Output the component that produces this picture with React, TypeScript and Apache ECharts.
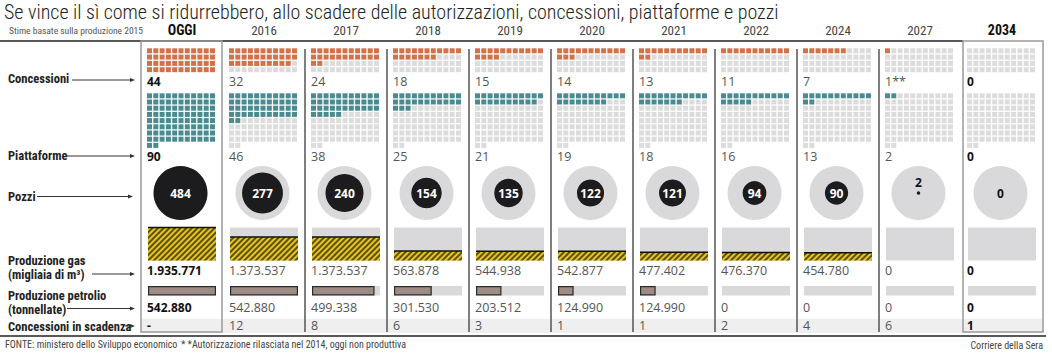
import React, { useEffect, useRef } from "react";
import * as echarts from "echarts";

const columns = ["OGGI", "2016", "2017", "2018", "2019", "2020", "2021", "2022", "2024", "2027", "2034"];
const concessioni = [44, 32, 24, 18, 15, 14, 13, 11, 7, 1, 0];
const concessioniLabels = ["44", "32", "24", "18", "15", "14", "13", "11", "7", "1**", "0"];
const piattaforme = [90, 46, 38, 25, 21, 19, 18, 16, 13, 2, 0];
const pozzi = [484, 277, 240, 154, 135, 122, 121, 94, 90, 2, 0];
const gas = [1935771, 1373537, 1373537, 563878, 544938, 542877, 477402, 476370, 454780, 0, 0];
const petrolio = [542880, 542880, 499338, 301530, 203512, 124990, 124990, 0, 0, 0, 0];
const scadenza = ["-", "12", "8", "6", "3", "1", "1", "2", "4", "6", "1"];

const F = "'Liberation Sans Narrow', 'Roboto Condensed', Roboto, sans-serif";
const FN = "'Open Sans', 'Liberation Sans', sans-serif";
const GL = 141;
const GR = 9;
const BAND = (1052 - GL - GR) / columns.length;

const ORANGE = "#d27249";
const TEAL = "#4a8b91";
const CELL_GREY = "#dcdcdc";
const BG_GREY = "#d9d9db";
const DARK = "#1c1c1e";

const fmt = (n: number) => (n === 0 ? "0" : String(n).replace(/\B(?=(\d{3})+(?!\d))/g, "."));
const isBold = (i: number) => i === 0 || i === columns.length - 1;

function numText(i: number, x: number, y: number, text: string) {
  return {
    type: "text",
    x,
    y,
    style: {
      text,
      fill: isBold(i) ? "#111" : "#555",
      fontSize: isBold(i) ? 12 : 12.5,
      fontWeight: isBold(i) ? "bold" : "normal",
      fontFamily: FN,
      align: "left",
      verticalAlign: "middle",
    },
  };
}

function waffle(rows: number, maxCells: number, color: string, labels: string[]) {
  return (params: any, api: any) => {
    const i = api.value(0);
    const v = api.value(1);
    const c = api.coord([i, 0]);
    const x0 = c[0] - 35;
    const pitch = 6.3;
    const children: any[] = [];
    for (let r = 0; r < rows; r++) {
      const y = api.coord([i, r])[1];
      for (let k = 0; k < 11; k++) {
        const idx = r * 11 + k;
        if (idx >= maxCells) continue;
        children.push({
          type: "rect",
          shape: { x: x0 + k * pitch, y, width: 5, height: 5 },
          style: { fill: idx < v ? color : CELL_GREY },
        });
      }
    }
    const yb = api.coord([i, rows])[1];
    children.push(numText(i, x0, yb + 7.5, labels[i]));
    return { type: "group", children };
  };
}

function arrow(x1: number, x2: number, y: number) {
  return [
    { type: "line", shape: { x1, y1: y, x2: x2 - 3, y2: y }, style: { stroke: "#333", lineWidth: 1 }, z: 10 },
    {
      type: "polygon",
      shape: { points: [[x2, y], [x2 - 5, y - 2], [x2 - 5, y + 2]] },
      style: { fill: "#333" },
      z: 10,
    },
  ];
}

function label(text: string, y: number) {
  return {
    type: "text",
    x: 8,
    y,
    style: { text, fill: "#222", fontSize: 12.5, fontWeight: "bold", fontFamily: F, verticalAlign: "middle" },
    z: 10,
  };
}

export default function App() {
  const ref = useRef<HTMLDivElement>(null);
  useEffect(() => {
    const chart = echarts.init(ref.current!, null, { renderer: "svg" });
    const gasMax = Math.max(...gas);
    const oilMax = Math.max(...petrolio);
    const grids = [
      { top: 48.3, height: 25.2 },
      { top: 93.3, height: 55.8 },
      { top: 166, height: 54 },
      { top: 227.5, height: 33 },
      { top: 286, height: 9.5 },
      { top: 318.7, height: 14.3, show: true, backgroundColor: "#efefef", borderWidth: 0 },
    ].map((g) => ({ left: GL, right: GR, containLabel: false, ...g }));

    const xAxis = grids.map((_, gi) => ({
      type: "category",
      gridIndex: gi,
      data: columns,
      show: gi === 0,
      position: "top",
      axisLine: { show: false },
      axisTick: { show: false },
      axisLabel: {
        show: gi === 0,
        interval: 0,
        margin: 11,
        formatter: (v: string, idx: number) => (isBold(idx) ? `{b|${v}}` : `{n|${v}}`),
        rich: {
          b: { fontSize: 14, fontWeight: "bold", color: "#111", fontFamily: F },
          n: { fontSize: 13, color: "#444", fontFamily: F },
        },
      },
    }));
    const yAxis = [
      { min: 0, max: 4, inverse: true },
      { min: 0, max: 9, inverse: true },
      { min: 0, max: 1 },
      { min: 0, max: gasMax },
      { min: 0, max: 1 },
      { min: 0, max: 1 },
    ].map((y, gi) => ({ type: "value", gridIndex: gi, show: false, ...y }));

    const option: any = {
      animation: false,
      backgroundColor: "#fff",
      grid: grids,
      xAxis,
      yAxis,
      series: [
        {
          type: "custom",
          xAxisIndex: 0,
          yAxisIndex: 0,
          clip: false,
          data: concessioni.map((v, i) => [i, v]),
          renderItem: waffle(4, 44, ORANGE, concessioniLabels),
        },
        {
          type: "custom",
          xAxisIndex: 1,
          yAxisIndex: 1,
          clip: false,
          data: piattaforme.map((v, i) => [i, v]),
          renderItem: waffle(9, 90, TEAL, piattaforme.map(String)),
        },
        {
          type: "scatter",
          xAxisIndex: 2,
          yAxisIndex: 2,
          silent: true,
          symbol: "circle",
          symbolSize: 54,
          symbolOffset: [-1.5, 0],
          itemStyle: { color: BG_GREY, opacity: 1 },
          data: columns.map((_, i) => [i, 0.5]),
          z: 2,
        },
        {
          type: "scatter",
          xAxisIndex: 2,
          yAxisIndex: 2,
          silent: true,
          symbol: "circle",
          symbolOffset: [-1.5, 0],
          symbolSize: (val: number[]) => 54 * Math.sqrt(val[2] / pozzi[0]),
          itemStyle: { color: DARK, opacity: 1 },
          z: 3,
          data: pozzi.map((v, i) => ({
            value: [i, 0.5, v],
            label: {
              show: true,
              formatter: String(v),
              position: v >= 20 || v === 0 ? "inside" : "top",
              distance: 3,
              color: v >= 20 ? "#fff" : "#111",
              fontSize: 12,
              fontWeight: "bold",
              fontFamily: FN,
            },
          })),
        },
        {
          type: "bar",
          xAxisIndex: 3,
          yAxisIndex: 3,
          barWidth: 68,
          showBackground: true,
          backgroundStyle: { color: BG_GREY },
          itemStyle: {
            color: "#e6c51c",
            decal: {
              symbol: "rect",
              symbolSize: 1,
              color: "rgba(60,50,5,0.8)",
              dashArrayX: [1, 0],
              dashArrayY: [2, 2],
              rotation: -Math.PI / 4,
            },
          },
          data: gas,
        },
        {
          type: "custom",
          xAxisIndex: 3,
          yAxisIndex: 3,
          clip: false,
          z: 4,
          data: gas.map((v, i) => [i, v]),
          renderItem: (params: any, api: any) => {
            const i = api.value(0);
            const v = api.value(1);
            const top = api.coord([i, v]);
            const bot = api.coord([i, 0]);
            const children: any[] = [];
            if (v > 0) {
              children.push({
                type: "line",
                shape: { x1: top[0] - 34, y1: top[1], x2: top[0] + 34, y2: top[1] },
                style: { stroke: "#111", lineWidth: 1.5 },
              });
            }
            children.push(numText(i, top[0] - 35, bot[1] + 9.5, fmt(v)));
            return { type: "group", children };
          },
        },
        {
          type: "custom",
          xAxisIndex: 4,
          yAxisIndex: 4,
          clip: false,
          data: petrolio.map((v, i) => [i, v]),
          renderItem: (params: any, api: any) => {
            const i = api.value(0);
            const v = api.value(1);
            const top = api.coord([i, 1]);
            const bot = api.coord([i, 0]);
            const x0 = top[0] - 34;
            const h = bot[1] - top[1];
            const children: any[] = [
              { type: "rect", shape: { x: x0, y: top[1], width: 68, height: h }, style: { fill: BG_GREY } },
            ];
            if (v > 0) {
              children.push({
                type: "rect",
                shape: { x: x0 + 0.6, y: top[1] + 0.6, width: (v / oilMax) * 68 - 1.2, height: h - 1.2 },
                style: { fill: "#9e8c84", stroke: "#2b2b2b", lineWidth: 1.2 },
              });
            }
            children.push(numText(i, top[0] - 35, bot[1] + 11.5, fmt(v)));
            return { type: "group", children };
          },
        },
        {
          type: "custom",
          xAxisIndex: 5,
          yAxisIndex: 5,
          clip: false,
          data: scadenza.map((s, i) => [i, 0.5]),
          renderItem: (params: any, api: any) => {
            const i = api.value(0);
            const c = api.coord([i, 0.5]);
            return numText(i, c[0] - 35, c[1], scadenza[i]);
          },
        },
      ],
      graphic: [
        {
          type: "text",
          x: 4,
          y: 12,
          style: {
            text: "Se vince il sì come si ridurrebbero, allo scadere delle autorizzazioni, concessioni, piattaforme e pozzi",
            fill: "#222",
            fontSize: 20,
            fontWeight: 300,
            fontFamily: F,
            verticalAlign: "middle",
          },
        },
        {
          type: "text",
          x: 9,
          y: 30,
          style: { text: "Stime basate sulla produzione 2015", fill: "#555", fontSize: 9.5, fontFamily: F, verticalAlign: "middle" },
        },
        { type: "line", shape: { x1: 0, y1: 41, x2: 963, y2: 41 }, style: { stroke: "#222", lineWidth: 1.5 }, z: 10 },
        { type: "line", shape: { x1: 0, y1: 336, x2: 1046, y2: 336 }, style: { stroke: "#222", lineWidth: 1.5 }, z: 10 },
        ...[2, 3, 4, 5, 6, 7, 8, 9].map((k) => ({
          type: "line",
          shape: { x1: GL + k * BAND, y1: 49, x2: GL + k * BAND, y2: 332 },
          style: { stroke: "#555", lineWidth: 1.5 },
          z: 10,
        })),
        { type: "rect", shape: { x: 141, y: 41, width: 81, height: 291 }, style: { fill: "none", stroke: "#9a9a9a", lineWidth: 1.5 }, z: 11 },
        { type: "rect", shape: { x: 963, y: 41, width: 80, height: 291 }, style: { fill: "none", stroke: "#9a9a9a", lineWidth: 1.5 }, z: 11 },
        label("Concessioni", 78.5),
        ...arrow(72, 135, 80),
        label("Piattaforme", 155.7),
        ...arrow(66, 135, 156),
        label("Pozzi", 196.5),
        ...arrow(37, 133, 196.5),
        label("Produzione gas", 260.5),
        label("(migliaia di m³)", 274),
        ...arrow(92, 135, 274),
        label("Produzione petrolio", 295.5),
        label("(tonnellate)", 309),
        ...arrow(67, 135, 308.5),
        label("Concessioni in scadenza", 326),
        ...arrow(125, 135, 326),
        {
          type: "text",
          x: 5,
          y: 344.5,
          style: { text: "FONTE: ministero dello Sviluppo economico", fill: "#444", fontSize: 10, fontFamily: F, verticalAlign: "middle" },
        },
        {
          type: "text",
          x: 181,
          y: 344.5,
          style: { text: "* *Autorizzazione rilasciata nel 2014, oggi non produttiva", fill: "#444", fontSize: 10, fontFamily: F, verticalAlign: "middle" },
        },
        {
          type: "text",
          x: 1043,
          y: 345.5,
          style: { text: "Corriere della Sera", fill: "#444", fontSize: 10, fontFamily: F, align: "right", verticalAlign: "middle" },
        },
      ],
    };
    chart.setOption(option);
    return () => chart.dispose();
  }, []);
  return <div ref={ref} style={{ position: "fixed", left: 0, top: 0, width: 1052, height: 354 }} />;
}
